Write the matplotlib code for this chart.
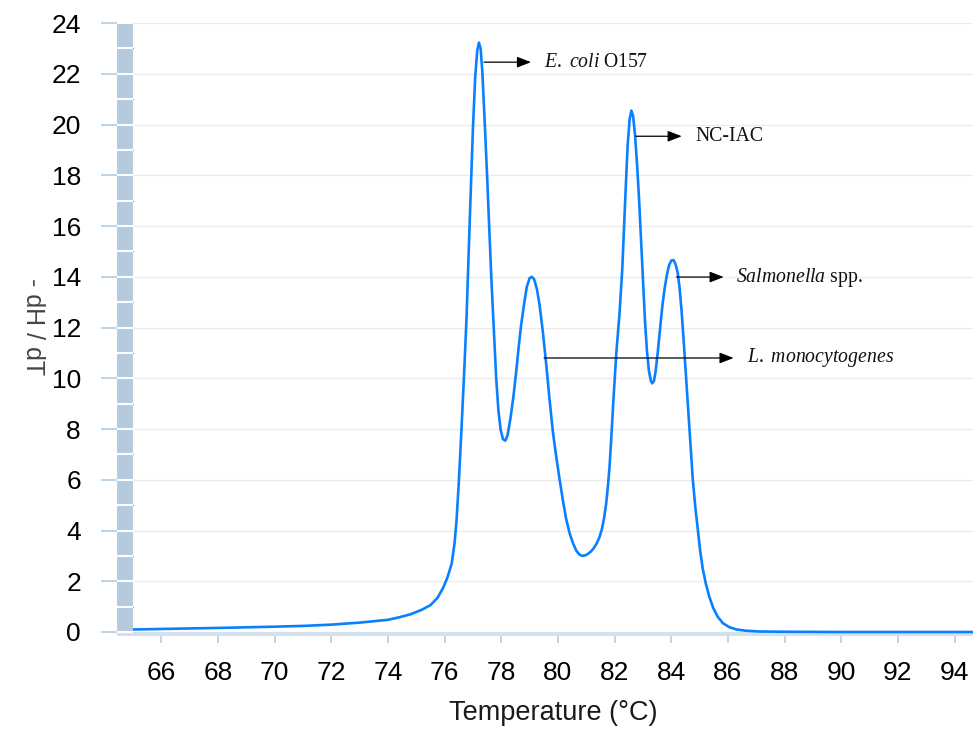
import matplotlib
matplotlib.use("Agg")
import matplotlib.pyplot as plt
from matplotlib.ticker import MultipleLocator

# ---------------- data ----------------
temperature = [65.0, 66.0, 68.0, 70.0, 71.0, 72.0, 73.0, 74.0, 74.4, 74.8, 75.2, 75.5,
               75.75, 75.95, 76.1, 76.25, 76.35, 76.42, 76.5, 76.59, 76.68, 76.77,
               76.88, 77.0, 77.08, 77.15, 77.21, 77.27, 77.33, 77.41, 77.49, 77.56,
               77.65, 77.74, 77.82, 77.9, 77.98, 78.06, 78.14, 78.22, 78.32, 78.43,
               78.53, 78.62, 78.7, 78.8, 78.9, 79.0, 79.08, 79.16, 79.26, 79.35,
               79.47, 79.59, 79.7, 79.82, 79.94, 80.06, 80.18, 80.29, 80.41, 80.53,
               80.65, 80.76, 80.86, 80.96, 81.06, 81.16, 81.26, 81.36, 81.46, 81.55,
               81.63, 81.7, 81.76, 81.82, 81.88, 81.96, 82.06, 82.17, 82.27, 82.38,
               82.46, 82.53, 82.59, 82.65, 82.72, 82.8, 82.87, 82.94, 83.0, 83.07,
               83.14, 83.21, 83.28, 83.33, 83.39, 83.45, 83.52, 83.6, 83.68, 83.76,
               83.84, 83.92, 84.0, 84.08, 84.15, 84.22, 84.29, 84.36, 84.43, 84.5,
               84.57, 84.64, 84.7, 84.76, 84.85, 84.94, 85.02, 85.11, 85.22, 85.34,
               85.48, 85.64, 85.82, 86.05, 86.3, 86.64, 87.1, 88.0, 90.0, 92.0, 94.65]
neg_dH_dT = [0.10, 0.12, 0.16, 0.21, 0.24, 0.29, 0.37, 0.48, 0.58, 0.70, 0.88, 1.06,
             1.35, 1.75, 2.15, 2.7, 3.5, 4.4, 5.9, 7.9, 10.0, 12.3,
             16.0, 19.9, 21.9, 22.9, 23.23, 23.0, 22.1, 20.2, 18.2, 16.3,
             13.9, 11.8, 10.0, 8.7, 7.95, 7.6, 7.54, 7.75, 8.4, 9.3,
             10.3, 11.3, 12.1, 12.9, 13.6, 13.95, 14.0, 13.9, 13.5, 12.9,
             11.8, 10.5, 9.2, 7.9, 6.9, 6.0, 5.15, 4.45, 3.9, 3.5,
             3.2, 3.05, 3.0, 3.02, 3.08, 3.17, 3.3, 3.48, 3.72, 4.05,
             4.5, 5.05, 5.7, 6.5, 7.6, 9.2, 11.0, 12.5, 14.3, 17.2,
             19.2, 20.2, 20.55, 20.35, 19.6, 18.3, 16.9, 15.3, 13.9, 12.3,
             11.1, 10.3, 9.9, 9.8, 9.9, 10.3, 11.0, 11.9, 12.8, 13.5,
             14.05, 14.45, 14.64, 14.66, 14.5, 14.2, 13.6, 12.7, 11.6, 10.4,
             9.2, 8.0, 7.0, 6.0, 4.9, 4.0, 3.2, 2.5, 1.9, 1.4,
             0.95, 0.6, 0.35, 0.19, 0.10, 0.05, 0.02, 0.01, 0.0, 0.0, 0.0]

x_ticks = list(range(66, 95, 2))
y_ticks = list(range(0, 25, 2))

# annotations: label, arrow start x, arrow y, arrow end x, text x
labels = [r"$\mathit{E.}$ $\mathit{coli}$ O157", "NC-IAC", r"$\mathit{Salmonella}$ spp.",
          r"$\mathit{L.}$ $\mathit{monocytogenes}$"]
arrow_start_x = [77.39, 82.75, 84.19, 79.51]
arrow_y = [22.46, 19.54, 13.99, 10.8]
arrow_end_x = [79.05, 84.37, 85.85, 86.20]
label_x = [79.50, 84.85, 86.30, 86.66]

# ---------------- style ----------------
W, H = 973, 733
plt.rcParams['mathtext.fontset'] = 'custom'
plt.rcParams['mathtext.it'] = 'Liberation Serif:italic'
plt.rcParams['mathtext.rm'] = 'Liberation Serif'
fig = plt.figure(figsize=(W / 100, H / 100), dpi=100)

band_px = 4
bottom_px = 636
top_px = 23.1
ymin = -band_px / 25.37
axes_bottom = (H - bottom_px) / H
axes_height = (bottom_px - top_px) / H

ax = fig.add_axes([133 / W, axes_bottom, (W - 133) / W, axes_height])
axb = fig.add_axes([117 / W, axes_bottom, 16 / W, axes_height], sharey=ax)

bar_color = "#b5cadd"
band_color = "#d2e1ee"
tick_color = "#b9d1e7"
curve_color = "#0a80ff"
tick_fs = 19

# main axes
ax.set_xlim(65, 94.65)
ax.set_ylim(ymin, 24)
for s in ax.spines.values():
    s.set_visible(False)
ax.axhspan(ymin, 0, color=band_color, zorder=1, lw=0)
ax.set_yticks(y_ticks)
ax.yaxis.grid(True, color="#ebebeb", lw=1.0, zorder=0)
ax.set_axisbelow(True)
ax.tick_params(axis='y', left=False, labelleft=False)
ax.set_xticks(x_ticks)
ax.tick_params(axis='x', direction='out', length=5.2, width=1.3, color=tick_color,
               labelsize=tick_fs, pad=12.5)
for lab in ax.get_xticklabels():
    lab.set_fontfamily("Liberation Sans")

ax.plot(temperature, neg_dH_dT, color=curve_color, lw=1.9, zorder=3,
        solid_capstyle='round', solid_joinstyle='round')

ax.set_xlabel("Temperature (°C)", fontsize=19.5, family="Liberation Sans",
              color="#1a1a1a", labelpad=11)

# annotations
for lab, xs, y, xe, xt in zip(labels, arrow_start_x, arrow_y, arrow_end_x, label_x):
    ax.annotate("", xy=(xe, y), xytext=(xs, y),
                arrowprops=dict(arrowstyle="-|>,head_length=0.85,head_width=0.33",
                                color="black", lw=0.9, shrinkA=0, shrinkB=0),
                zorder=4)
    ax.text(xt, y, lab, fontsize=14.2, family="Liberation Serif", va="center",
            ha="left", color="#111111", zorder=4)

# left bar axes
axb.set_xlim(0, 1)
axb.set_facecolor("none")
axb.axhspan(0, 24, color=bar_color, lw=0, zorder=0)
axb.axhspan(ymin, 0, color=band_color, lw=0, zorder=0)
for s in axb.spines.values():
    s.set_visible(False)
axb.set_xticks([])
axb.yaxis.set_minor_locator(MultipleLocator(1))
axb.yaxis.grid(True, which='both', color="white", lw=1.5, zorder=1)
axb.set_axisbelow(False)
axb.tick_params(axis='y', which='major', direction='out', length=11.5, width=1.3,
                color=tick_color, labelsize=tick_fs, pad=14.5)
axb.tick_params(axis='y', which='minor', length=0)
for lab in axb.get_yticklabels():
    lab.set_fontfamily("Liberation Sans")
axb.set_ylabel("- dH / dT", rotation=270, fontsize=18, family="Liberation Sans",
               color="#444444")
axb.yaxis.set_label_coords(-6.0, 0.505)

fig.savefig("out.png", dpi=100)
